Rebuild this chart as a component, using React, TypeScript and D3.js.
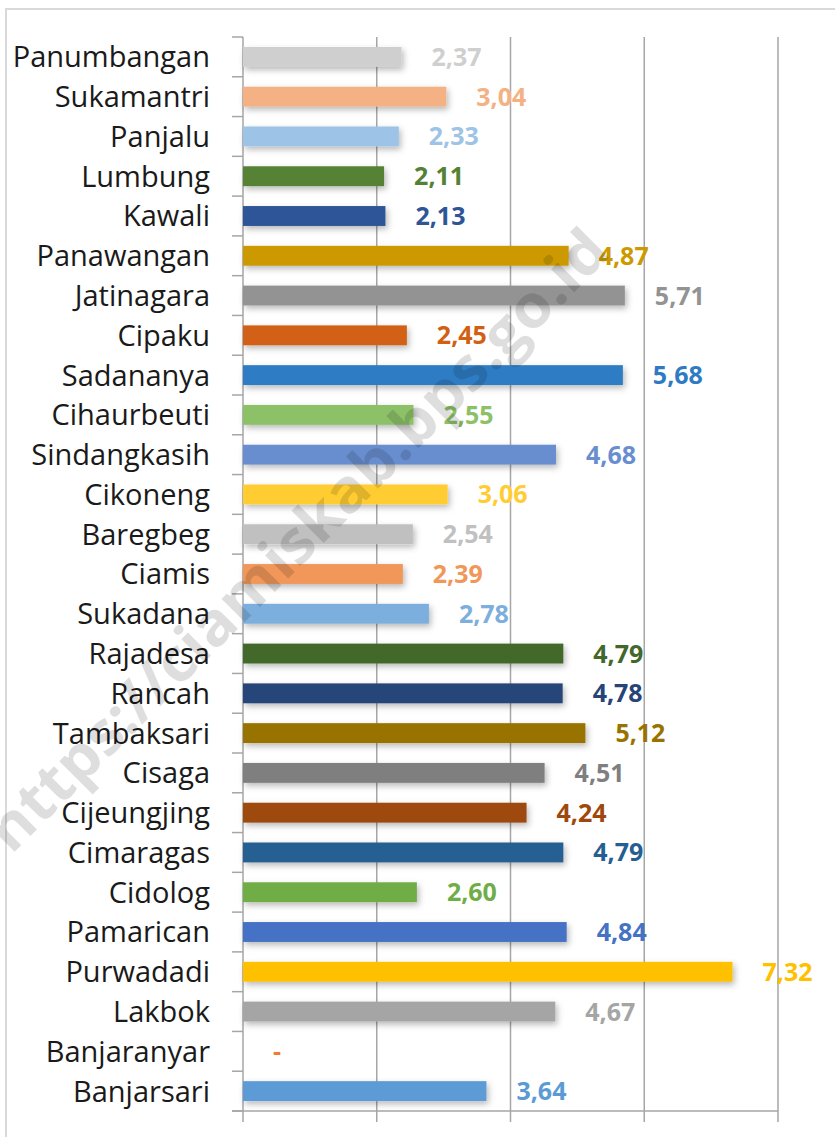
import React from 'react';
import * as d3 from 'd3';

const categories = [
  'Panumbangan', 'Sukamantri', 'Panjalu', 'Lumbung', 'Kawali', 'Panawangan', 'Jatinagara',
  'Cipaku', 'Sadananya', 'Cihaurbeuti', 'Sindangkasih', 'Cikoneng', 'Baregbeg', 'Ciamis',
  'Sukadana', 'Rajadesa', 'Rancah', 'Tambaksari', 'Cisaga', 'Cijeungjing', 'Cimaragas',
  'Cidolog', 'Pamarican', 'Purwadadi', 'Lakbok', 'Banjaranyar', 'Banjarsari',
];

// null = no data, shown as "-"
const values: (number | null)[] = [
  2.37, 3.04, 2.33, 2.11, 2.13, 4.87, 5.71,
  2.45, 5.68, 2.55, 4.68, 3.06, 2.54, 2.39,
  2.78, 4.79, 4.78, 5.12, 4.51, 4.24, 4.79,
  2.60, 4.84, 7.32, 4.67, null, 3.64,
];

const colors = [
  '#cfcfcf', '#f4b183', '#9dc3e6', '#548235', '#2f5597', '#cc9a00', '#939393',
  '#d26012', '#2e7bc4', '#8cc168', '#698ed0', '#ffcd33', '#c0c0c0', '#f1975a',
  '#7cafdd', '#43682b', '#264478', '#997300', '#7f7f7f', '#9e480e', '#255e91',
  '#70ad47', '#4472c4', '#ffc000', '#a5a5a5', '#ed7d31', '#5b9bd5',
];

const xTicks = [0, 2, 4, 6, 8];

const W = 835;
const H = 1137;
const margin = { top: 37, left: 243, right: 57, bottom: 26 };

const fmt = (v: number) => d3.format('.2f')(v).replace('.', ',');

export default function App() {
  const x = d3.scaleLinear().domain([0, 8]).range([margin.left, W - margin.right]);
  const y = d3.scaleBand<string>()
    .domain(categories)
    .range([margin.top, H - margin.bottom])
    .paddingInner(0.5)
    .paddingOuter(0.25);

  const [y0, y1] = y.range();
  const step = y.step();
  const boundaries = d3.range(categories.length + 1).map(i => y0 + i * step);

  return (
    <div style={{ position: 'absolute', left: 0, top: 0 }}>
      <svg width={W} height={H} style={{ display: 'block', background: '#fff' }}>
        <defs>
          <filter id="shadow" x="-10%" y="-60%" width="120%" height="260%">
            <feDropShadow dx="2" dy="3" stdDeviation="3" floodColor="#000" floodOpacity="0.28" />
          </filter>
        </defs>

        {/* outer frame */}
        <rect x={6} y={9} width={W + 20} height={H + 20} fill="none" stroke="#d9d9d9" strokeWidth={2} />

        {/* gridlines */}
        {xTicks.map(t => (
          <line key={t} x1={x(t)} x2={x(t)} y1={y0} y2={y1 + 11} stroke="#a6a6a6" strokeWidth={1.5} />
        ))}

        {/* category axis ticks */}
        {boundaries.map((b, i) => (
          <line key={i} x1={margin.left - 11} x2={margin.left} y1={b} y2={b} stroke="#a6a6a6" strokeWidth={1.5} />
        ))}
        <line x1={margin.left - 11} x2={x(8)} y1={y1} y2={y1} stroke="#a6a6a6" strokeWidth={1.5} />

        {/* bars */}
        {categories.map((c, i) => {
          const v = values[i];
          if (v == null) return null;
          return (
            <rect key={c} x={x(0)} y={y(c)} width={x(v) - x(0)} height={y.bandwidth()}
              fill={colors[i]} filter="url(#shadow)" />
          );
        })}

        {/* category labels */}
        {categories.map(c => (
          <text key={c} x={210} y={(y(c) ?? 0) + y.bandwidth() / 2} dy="0.36em" textAnchor="end"
            fontFamily="'Open Sans', sans-serif" fontSize={29} fill="#1a1a1a">
            {c}
          </text>
        ))}

        {/* value labels */}
        {categories.map((c, i) => {
          const v = values[i];
          return (
            <text key={c} x={x(v ?? 0) + 30} y={(y(c) ?? 0) + y.bandwidth() / 2} dy="0.36em"
              fontFamily="'Open Sans', sans-serif" fontWeight="bold" fontSize={25} fill={colors[i]}>
              {v == null ? '-' : fmt(v)}
            </text>
          );
        })}

        {/* watermark */}
        <text x={297} y={540} dy="0.35em" textAnchor="middle" transform="rotate(-45 297 540)"
          fontFamily="'Open Sans', sans-serif" fontWeight="bold" fontSize={60} fill="#000" fillOpacity={0.13}
          textLength={850} lengthAdjust="spacingAndGlyphs">
          https://ciamiskab.bps.go.id
        </text>
      </svg>
    </div>
  );
}
